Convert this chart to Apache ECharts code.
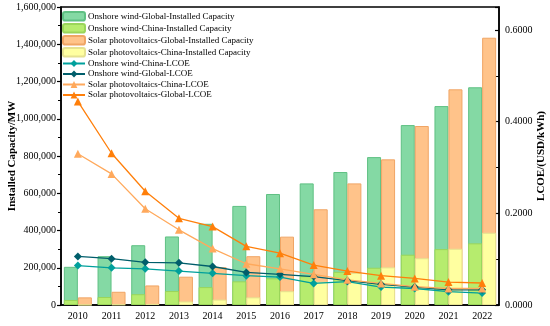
<!DOCTYPE html>
<html>
<head>
<meta charset="utf-8">
<script src="https://cdn.jsdelivr.net/npm/echarts@6/dist/echarts.min.js"></script>
<style>html,body{margin:0;padding:0;background:#fff}#c{width:550px;height:326px}</style>
</head>
<body>
<div id="c"></div>
<script>
var years = ['2010','2011','2012','2013','2014','2015','2016','2017','2018','2019','2020','2021','2022'];
var windGlobalCap = [205000, 262000, 321000, 368000, 436000, 532000, 596000, 653000, 714000, 794000, 966000, 1068000, 1169000];
var windChinaCap = [27000, 43000, 58000, 75000, 96000, 127000, 143000, 155000, 178000, 200000, 270000, 300000, 331000];
var solarGlobalCap = [41000, 71000, 105000, 152000, 203000, 262000, 367000, 514000, 653000, 782000, 961000, 1158000, 1435000];
var solarChinaCap = [1000, 3000, 6000, 19000, 29000, 41000, 74000, 125000, 172000, 202000, 251000, 302000, 388000];
var windChinaLCOE = [0.086, 0.081, 0.079, 0.074, 0.069, 0.064, 0.061, 0.047, 0.051, 0.039, 0.036, 0.029, 0.026];
var windGlobalLCOE = [0.106, 0.101, 0.093, 0.092, 0.084, 0.071, 0.067, 0.062, 0.053, 0.045, 0.039, 0.033, 0.033];
var solarChinaLCOE = [0.330, 0.286, 0.210, 0.164, 0.123, 0.090, 0.079, 0.067, 0.055, 0.047, 0.040, 0.036, 0.036];
var solarGlobalLCOE = [0.444, 0.331, 0.248, 0.189, 0.171, 0.128, 0.113, 0.087, 0.074, 0.064, 0.058, 0.050, 0.048];
var leftTicks = {min: 0, max: 1600000, interval: 200000};
var rightTicks = {min: 0, max: 0.65, interval: 0.2};

var FONT = 'Liberation Serif';
var chart = echarts.init(document.getElementById('c'), null, {renderer: 'canvas'});
function fmt(v){ return v.toString().replace(/\B(?=(\d{3})+(?!\d))/g, ','); }
var barW = 14;
var option = {
  animation: false,
  backgroundColor: '#fff',
  textStyle: {fontFamily: FONT, color: '#000'},
  grid: {left: 61, right: 51, top: 7, bottom: 21, containLabel: false, outerBoundsMode: 'none',
         show: true, borderColor: '#000', borderWidth: 1.5, backgroundColor: 'transparent'},
  legend: {
    orient: 'vertical', left: 62, top: 11, itemWidth: 22, itemHeight: 8.5, itemGap: 1.5, padding: 0,
    textStyle: {fontFamily: FONT, fontSize: 9, lineHeight: 9, color: '#000', padding: [0, 0, 0, -2]},
    data: ['Onshore wind-Global-Installed Capacity','Onshore wind-China-Installed Capacity','Solar photovoltaics-Global-Installed Capacity','Solar photovoltaics-China-Installed Capacity','Onshore wind-China-LCOE','Onshore wind-Global-LCOE','Solar photovoltaics-China-LCOE','Solar photovoltaics-Global-LCOE']
  },
  xAxis: [
    {type: 'category', data: years, boundaryGap: true,
     axisLine: {lineStyle: {color: '#000', width: 1.5}},
     axisTick: {alignWithLabel: true, length: 4, lineStyle: {color: '#000', width: 1.2}},
     axisLabel: {fontFamily: FONT, fontSize: 10, color: '#000', margin: 6}},
    {type: 'category', data: years, show: false}
  ],
  yAxis: [
    {type: 'value', min: leftTicks.min, max: leftTicks.max, interval: leftTicks.interval, position: 'left',
     name: 'Installed Capacity/MW', nameLocation: 'middle', nameRotate: 90, nameGap: 43, nameMoveOverlap: false,
     nameTextStyle: {fontFamily: FONT, fontSize: 11, fontWeight: 'bold', color: '#000'},
     axisLine: {show: true, lineStyle: {color: '#000', width: 1.5}},
     axisTick: {show: true, inside: false, length: 4, lineStyle: {color: '#000', width: 1.2}},
     minorTick: {show: true, splitNumber: 2, length: 3, lineStyle: {color: '#000', width: 1}},
     splitLine: {show: false},
     axisLabel: {fontFamily: FONT, fontSize: 10, color: '#000', margin: 5, formatter: function(v){return fmt(v);}}},
    {type: 'value', min: rightTicks.min, max: rightTicks.max, interval: rightTicks.interval, position: 'right',
     name: 'LCOE/(USD/kWh)', nameLocation: 'middle', nameRotate: 90, nameGap: 37, nameMoveOverlap: false,
     nameTextStyle: {fontFamily: FONT, fontSize: 11, fontWeight: 'bold', color: '#000'},
     axisLine: {show: true, lineStyle: {color: '#000', width: 1.5}},
     axisTick: {show: true, inside: true, length: 4, lineStyle: {color: '#000', width: 1.2}},
     minorTick: {show: true, splitNumber: 2, length: 3, lineStyle: {color: '#000', width: 1}},
     splitLine: {show: false},
     axisLabel: {fontFamily: FONT, fontSize: 10, color: '#000', margin: 6, showMaxLabel: false, formatter: function(v){return v.toFixed(4);}}}
  ],
  series: [
    {name: 'Onshore wind-Global-Installed Capacity', type: 'bar', xAxisIndex: 0, yAxisIndex: 0, barWidth: barW, barGap: '0%', data: windGlobalCap,
     itemStyle: {color: '#84d9a4', borderColor: '#5fc083', borderWidth: 1}},
    {name: 'Solar photovoltaics-Global-Installed Capacity', type: 'bar', xAxisIndex: 0, yAxisIndex: 0, barWidth: barW, barGap: '0%', data: solarGlobalCap,
     itemStyle: {color: '#ffc38a', borderColor: '#f0a565', borderWidth: 1}},
    {name: 'Onshore wind-China-Installed Capacity', type: 'bar', xAxisIndex: 1, yAxisIndex: 0, barWidth: barW, barGap: '0%', data: windChinaCap,
     itemStyle: {color: '#b6ec6e', borderColor: '#9ad55a', borderWidth: 1}},
    {name: 'Solar photovoltaics-China-Installed Capacity', type: 'bar', xAxisIndex: 1, yAxisIndex: 0, barWidth: barW, barGap: '0%', data: solarChinaCap,
     itemStyle: {color: '#ffffa0', borderColor: '#e6e290', borderWidth: 1}},
    {name: 'Onshore wind-China-LCOE', type: 'line', xAxisIndex: 0, yAxisIndex: 1, data: windChinaLCOE, z: 10,
     symbol: 'diamond', symbolSize: 8, lineStyle: {color: '#00a09c', width: 1.3}, itemStyle: {color: '#00a09c'}},
    {name: 'Onshore wind-Global-LCOE', type: 'line', xAxisIndex: 0, yAxisIndex: 1, data: windGlobalLCOE, z: 10,
     symbol: 'diamond', symbolSize: 8, lineStyle: {color: '#005e6b', width: 1.3}, itemStyle: {color: '#005e6b'}},
    {name: 'Solar photovoltaics-China-LCOE', type: 'line', xAxisIndex: 0, yAxisIndex: 1, data: solarChinaLCOE, z: 10,
     symbol: 'triangle', symbolSize: 8, lineStyle: {color: '#ffa95c', width: 1.3}, itemStyle: {color: '#ffa95c'}},
    {name: 'Solar photovoltaics-Global-LCOE', type: 'line', xAxisIndex: 0, yAxisIndex: 1, data: solarGlobalLCOE, z: 10,
     symbol: 'triangle', symbolSize: 8, lineStyle: {color: '#ff7f0a', width: 1.3}, itemStyle: {color: '#ff7f0a'}}
  ]
};
chart.setOption(option);
</script>
</body>
</html>
